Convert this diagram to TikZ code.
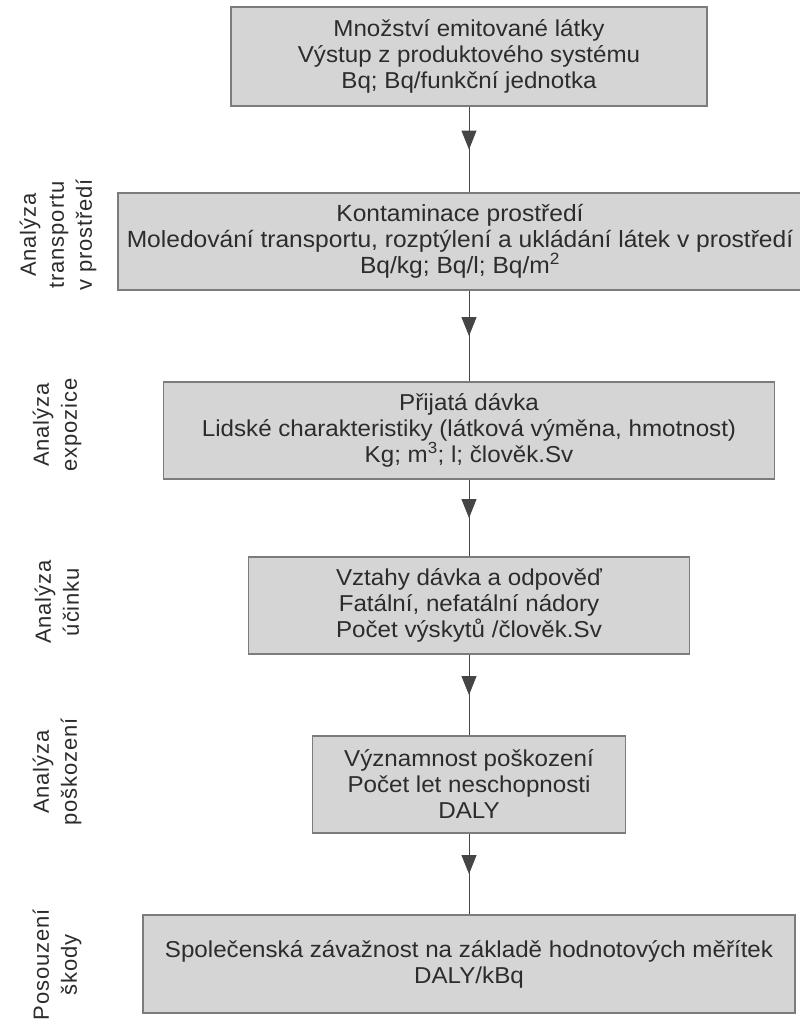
\documentclass[tikz,border=0pt]{standalone}
\usepackage{fontspec}
\setmainfont{Liberation Sans}
\newfontfamily\boxfont[FakeStretch=1.05]{Liberation Sans}
\newfontfamily\labfont[LetterSpace=4]{Liberation Sans}
\usetikzlibrary{arrows.meta,decorations.markings}
\definecolor{boxfill}{HTML}{D5D5D5}
\definecolor{boxline}{HTML}{7C7C7C}
\definecolor{ink}{HTML}{2C2C2C}
\definecolor{arrowc}{HTML}{454545}
\tikzset{
  stage/.style={draw=boxline, line width=1.1pt, fill=boxfill, text=ink, align=center,
    inner sep=0pt, minimum height=97pt, font=\boxfont\fontsize{23}{26}\selectfont},
  phase/.style={rotate=90, align=center, text=ink, inner sep=0pt,
    font=\labfont\fontsize{22}{28}\selectfont},
  flow/.style={draw=arrowc, line width=1pt, postaction={decorate},
    decoration={markings, mark=at position 0.5 with {\arrow[color=arrowc]{Triangle[length=19pt,width=15pt]}}}}
}
\begin{document}
\begin{tikzpicture}[x=1pt,y=-1pt]
\useasboundingbox (0,0) rectangle (800,1025);
\clip (0,0) rectangle (800,1025);
\fill[white] (0,0) rectangle (800,1025);

\node[stage, minimum width=476pt, minimum height=99pt] (s1) at (469,56.5)
  {Množství emitované látky\\Výstup z produktového systému\\Bq; Bq/funkční jednotka};
\node[stage, minimum width=684pt, font=\boxfont\fontsize{23.4}{26}\selectfont] (s2) at (460,241.5)
  {Kontaminace prostředí\\Moledování transportu, rozptýlení a ukládání látek v prostředí\\Bq/kg; Bq/l; Bq/m\textsuperscript{2}};
\node[stage, minimum width=611pt] (s3) at (469,430.5)
  {Přijatá dávka\\Lidské charakteristiky (látková výměna, hmotnost)\\Kg; m\textsuperscript{3}; l; člověk.Sv};
\node[stage, minimum width=441pt] (s4) at (469,605.5)
  {Vztahy dávka a odpověď\\Fatální, nefatální nádory\\Počet výskytů /člověk.Sv};
\node[stage, minimum width=313pt] (s5) at (469,784.5)
  {Významnost poškození\\Počet let neschopnosti\\DALY};
\node[stage, minimum width=652pt, minimum height=98pt] (s6) at (469,964)
  {Společenská závažnost na základě hodnotových měřítek\\DALY/kBq};

\node[phase] (l1) at (58,235) {Analýza\\transportu\\v prostředí};
\node[phase] (l2) at (57,425) {Analýza\\expozice};
\node[phase] (l3) at (57,602) {Analýza\\účinku};
\node[phase] (l4) at (57,772) {Analýza\\poškození};
\node[phase] (l5) at (57,965) {Posouzení\\škody};

\draw[flow] (s1.south) -- (s1.south |- s2.north);
\draw[flow] (s1.south |- s2.south) -- (s3.north);
\draw[flow] (s3.south) -- (s4.north);
\draw[flow] (s4.south) -- (s5.north);
\draw[flow] (s5.south) -- (s6.north);
\end{tikzpicture}
\end{document}
